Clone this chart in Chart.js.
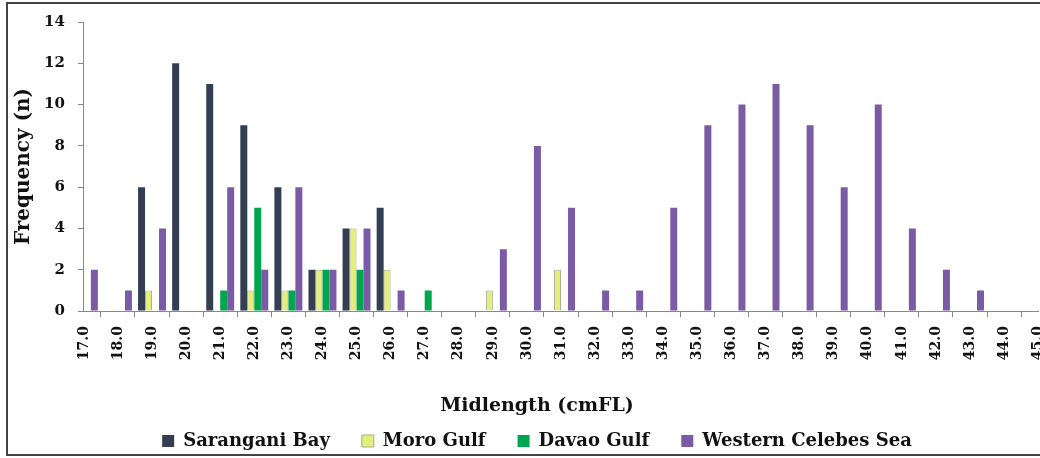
<!DOCTYPE html>
<html>
<head>
<meta charset="utf-8">
<script src="https://cdn.jsdelivr.net/npm/chart.js@4.4.0/dist/chart.umd.min.js"></script>
<style>
  html, body { margin: 0; padding: 0; background: #fff; overflow: hidden; }
  #frame {
    position: absolute; left: 6px; top: 2px; width: 1060px; height: 454px;
    border: 2px solid #444; box-sizing: border-box;
  }
  /* wider than the window so the last tick label runs off the right edge */
  #wrap { position: absolute; left: 0; top: 0; width: 1064px; height: 460px; }
</style>
</head>
<body>
<div id="wrap"><canvas id="lengthChart"></canvas></div>
<div id="frame"></div>
<script>
// Midlength classes (cm fork length)
const midlengths = ['17.0', '18.0', '19.0', '20.0', '21.0', '22.0', '23.0', '24.0', '25.0', '26.0',
  '27.0', '28.0', '29.0', '30.0', '31.0', '32.0', '33.0', '34.0', '35.0', '36.0',
  '37.0', '38.0', '39.0', '40.0', '41.0', '42.0', '43.0', '44.0', '45.0'];

// Frequency (n) per midlength class, one array per site
const saranganiBay = [0, 0, 6, 12, 11, 9, 6, 2, 4, 5, 0, 0, 0, 0, 0, 0, 0, 0, 0, 0, 0, 0, 0, 0, 0, 0, 0, 0, 0];
const moroGulf = [0, 0, 1, 0, 0, 1, 1, 2, 4, 2, 0, 0, 1, 0, 2, 0, 0, 0, 0, 0, 0, 0, 0, 0, 0, 0, 0, 0, 0];
const davaoGulf = [0, 0, 0, 0, 1, 5, 1, 2, 2, 0, 1, 0, 0, 0, 0, 0, 0, 0, 0, 0, 0, 0, 0, 0, 0, 0, 0, 0, 0];
const westernCelebesSea = [2, 1, 4, 0, 6, 2, 6, 2, 4, 1, 0, 0, 3, 8, 5, 1, 1, 5, 9, 10, 11, 9, 6, 10, 4, 2, 1, 0, 0];

const yTicks = { min: 0, max: 14, step: 2 };

const FONT = "'DejaVu Serif', serif";

function makeDataset(label, values, color, border) {
    return {
        label: label,
        data: values,
        backgroundColor: color,
        borderColor: border || color,
        borderWidth: border ? 1 : 0,
        borderSkipped: 'bottom',
        barPercentage: 1.0,
        categoryPercentage: 0.82
    };
}

const chartData = {
    labels: midlengths,
    datasets: [
        makeDataset('Sarangani Bay', saranganiBay, '#343e52'),
        makeDataset('Moro Gulf', moroGulf, '#e3ee7c', '#a9ab8e'),
        makeDataset('Davao Gulf', davaoGulf, '#00a550'),
        makeDataset('Western Celebes Sea', westernCelebesSea, '#7b5ba5')
    ]
};

Chart.defaults.font.family = FONT;
Chart.defaults.color = '#111';

new Chart(document.getElementById('lengthChart').getContext('2d'), {
    type: 'bar',
    data: chartData,
    options: {
        responsive: true,
        maintainAspectRatio: false,
        animation: false,
        layout: { padding: { top: 17, left: 10, right: 0, bottom: 0 } },
        plugins: {
            legend: {
                position: 'bottom',
                weight: 1000,
                labels: {
                    boxWidth: 12,
                    boxHeight: 12,
                    padding: 32,
                    font: { size: 18, weight: 'bold' },
                    color: '#111'
                }
            },
            title: {
                // x axis caption, kept between tick labels and legend
                display: true,
                text: 'Midlength (cmFL)',
                position: 'bottom',
                weight: 500,
                padding: { top: 25, bottom: -17 },
                font: { size: 19, weight: 'bold' },
                color: '#111'
            },
            tooltip: { enabled: false }
        },
        scales: {
            x: {
                offset: false,
                grid: { display: true, drawOnChartArea: false, drawTicks: true, tickLength: 6, color: '#888' },
                border: { display: true, color: '#888', width: 1 },
                ticks: {
                    autoSkip: false,
                    minRotation: 90,
                    maxRotation: 90,
                    padding: 9,
                    font: { size: 14, weight: 'bold' },
                    color: '#111'
                }
            },
            y: {
                min: yTicks.min,
                max: yTicks.max,
                grid: { display: true, drawOnChartArea: false, drawTicks: true, tickLength: 6, color: '#888' },
                border: { display: true, color: '#888', width: 1 },
                ticks: {
                    stepSize: yTicks.step,
                    padding: 13,
                    font: { size: 15, weight: 'bold' },
                    color: '#111'
                },
                title: {
                    display: true,
                    text: 'Frequency (n)',
                    padding: { top: 2, bottom: -5 },
                    font: { size: 20, weight: 'bold' },
                    color: '#111'
                }
            }
        }
    }
});
</script>
</body>
</html>
